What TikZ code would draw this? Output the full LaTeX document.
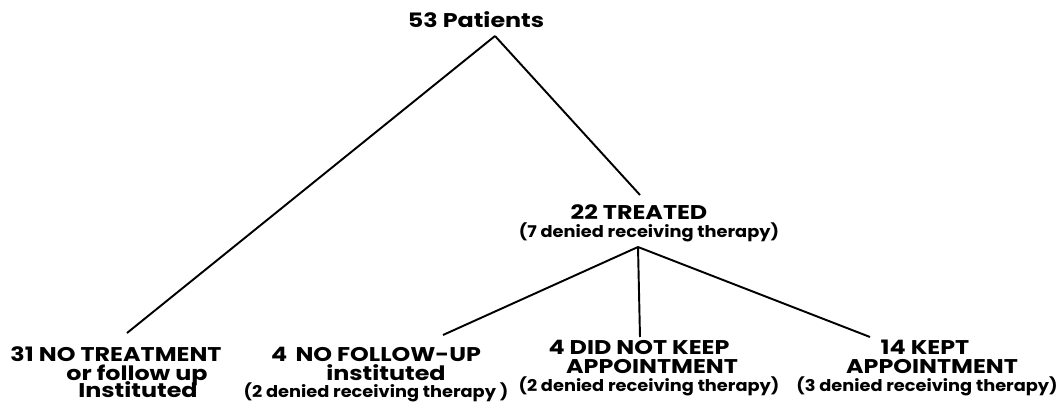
\documentclass[tikz,border=0pt]{standalone}
\usepackage{fontspec}
\newfontfamily\lblfont{Poppins}[FakeStretch=1.2]
\newfontfamily\notefont{Poppins}[FakeStretch=1.1]
\usepackage{tikz}

\begin{document}
\begin{tikzpicture}[x=0.02cm,y=-0.02cm,
    lbl/.style={font=\fontsize{11.3}{12}\lblfont\bfseries, inner sep=0pt, anchor=base,
        text height=0.7em, text depth=0.1em},
    sub/.style={font=\fontsize{9.2}{10}\notefont\bfseries, inner sep=0pt, anchor=base,
        text height=0.7em, text depth=0.1em},
    branch/.style={line width=1.1pt}]
        % page frame
        \useasboundingbox (0,0) rectangle (1058,408);
        % top and middle
        \node[lbl] (patients) at (476,28) {53 Patients};
        \coordinate (apex) at (495,36);
        \node[lbl] (treated) at (639,220) {22 TREATED};
        \node[sub] (treatednote) at (649,238) {(7 denied receiving therapy)};
        \coordinate (treatedtop) at (640,195);
        \coordinate (fork) at (638,247);
        % bottom row
        \node[lbl] (none) at (116,362) {31 NO TREATMENT};
        \node[lbl] (nonea) at (137,380) {or follow up};
        \node[lbl] (noneb) at (138,398) {Instituted};
        \node[lbl] (nofollow) at (376,362) {4 \,NO FOLLOW-UP};
        \node[lbl] (nofollowa) at (386,380) {instituted};
        \node[sub] (nofollownote) at (376,398) {(2 denied receiving therapy )};
        \node[lbl] (notkept) at (639,355) {4 DID NOT KEEP};
        \node[lbl] (notkepta) at (652,374) {APPOINTMENT};
        \node[sub] (notkeptnote) at (649,392) {(2 denied receiving therapy)};
        \node[lbl] (kept) at (925,355) {14 KEPT};
        \node[lbl] (kepta) at (932,374) {APPOINTMENT};
        \node[sub] (keptnote) at (927,392) {(3 denied receiving therapy)};
        % line ends above the labels
        \coordinate (noneend) at (127,333);
        \coordinate (nofollowend) at (443,335);
        \coordinate (notkeptend) at (640,337);
        \coordinate (keptend) at (870,337);
        % connectors
        \draw[branch] (apex) -- (noneend);
        \draw[branch] (apex) -- (treatedtop);
        \draw[branch] (fork) -- (nofollowend);
        \draw[branch] (fork) -- (notkeptend);
        \draw[branch] (fork) -- (keptend);
    \end{tikzpicture}
\end{document}
